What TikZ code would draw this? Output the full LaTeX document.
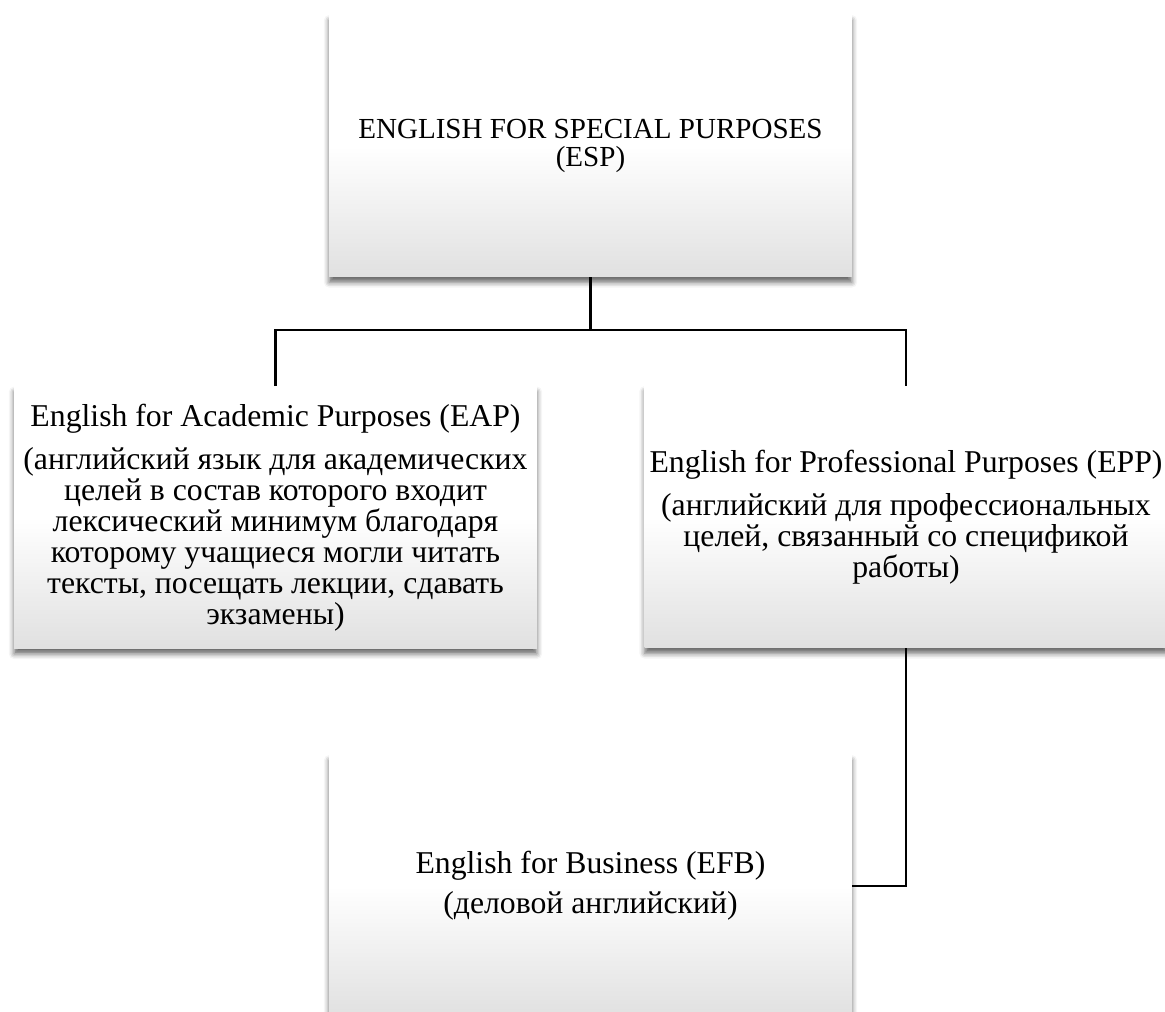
\documentclass[tikz,border=0pt]{standalone}
\usepackage{fontspec}
\setmainfont{Liberation Serif}
\usepackage{tikz}
\usetikzlibrary{shadows.blur}
\tikzset{
  purpose/.style={shade, top color=white, bottom color=gray!24, middle color=white,
    minimum width=392pt, minimum height=196.5pt, inner sep=0pt, align=center,
    font=\fontsize{23.8}{23.2}\selectfont,
    blur shadow={shadow xshift=0pt, shadow yshift=-4pt, shadow blur radius=4pt, shadow opacity=60}},
  link/.style={line width=2.2pt}
}

\begin{document}
\begin{tikzpicture}[x=0.75pt,y=-0.75pt]
	\useasboundingbox (0,0) rectangle (1165,1012);

	% The four boxes
	\node [purpose, font=\fontsize{21.8}{21}\selectfont] (esp) at (590.5,146)
	  {ENGLISH FOR SPECIAL PURPOSES\\(ESP)};
	\node [purpose] (eap) at (275.5,517.5)
	  {English for Academic Purposes (EAP)\\[9pt]
	   (английский язык для академических\\
	   целей в состав которого входит\\
	   лексический минимум благодаря\\
	   которому учащиеся могли читать\\
	   тексты, посещать лекции, сдавать\\
	   экзамены)};
	\node [purpose] (epp) at (906,517)
	  {English for Professional Purposes (EPP)\\[9pt]
	   (английский для профессиональных\\
	   целей, связанный со спецификой\\
	   работы)};
	\node [purpose] (efb) at (590.5,886)
	  {English for Business (EFB)\\[7pt]
	   (деловой английский)};

	% Connectors
	\coordinate (fork) at (590.5,330);
	\draw [link] (esp.south) -- (fork);
	\draw [link] (eap.north) |- (fork) -| (epp.north);
	\draw [link] (epp.south) |- (efb.east);
\end{tikzpicture}
\end{document}
